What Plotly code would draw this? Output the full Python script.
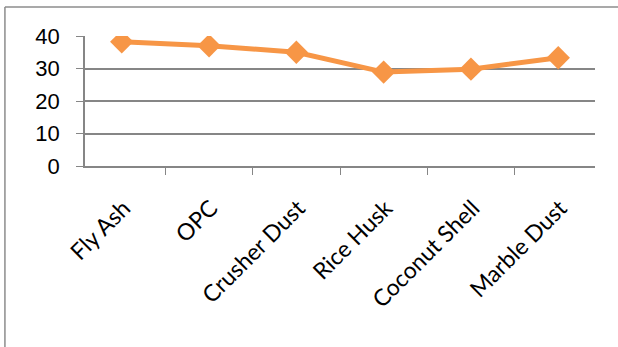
import plotly.graph_objects as go

materials = ['Fly Ash', 'OPC', 'Crusher Dust', 'Rice Husk', 'Coconut Shell', 'Marble Dust']
values = [38.2, 37.0, 35.0, 28.9, 29.8, 33.3]
y_ticks = [0, 10, 20, 30, 40]

axis_grey = '#868686'
frame_grey = '#8c8c8c'

fig = go.Figure()
fig.add_trace(go.Scatter(
    x=materials, y=values, mode='lines+markers',
    line=dict(color='#F79646', width=5),
    marker=dict(symbol='diamond', size=18, color='#F79646'),
    showlegend=False,
))

# outer chart frame: only the top and left edges fall inside the picture
fig.add_shape(type='line', xref='paper', yref='paper',
              x0=-0.157, x1=1.1, y0=1.223, y1=1.223,
              line=dict(color=frame_grey, width=1.5))
fig.add_shape(type='line', xref='paper', yref='paper',
              x0=-0.157, x1=-0.157, y0=-1.5, y1=1.223,
              line=dict(color=frame_grey, width=1.5))

fig.update_layout(
    width=618, height=347,
    margin=dict(l=85, r=23, t=36, b=181),
    paper_bgcolor='white', plot_bgcolor='white',
    font=dict(family='Liberation Sans', color='black'),
)
fig.update_xaxes(
    type='category', tickangle=-45, tickson='boundaries',
    ticks='outside', ticklen=7, tickcolor=axis_grey,
    showline=True, linecolor=axis_grey, linewidth=1.5,
    showgrid=False, automargin=False,
    ticklabelstandoff=18, ticklabelshift=2,
    tickfont=dict(family='Lato', size=23),
)
fig.update_yaxes(
    range=[0, 40], tickvals=y_ticks,
    ticks='outside', ticklen=7, tickcolor=axis_grey,
    showline=True, linecolor=axis_grey, linewidth=1.5,
    showgrid=True, gridcolor=axis_grey, gridwidth=1.5,
    zeroline=False, ticklabelstandoff=12, automargin=False,
    tickfont=dict(family='Liberation Sans Narrow, Liberation Sans', size=22),
)

fig.write_html('out.html', config={'displayModeBar': False},
               post_script="document.body.style.margin='0';")
